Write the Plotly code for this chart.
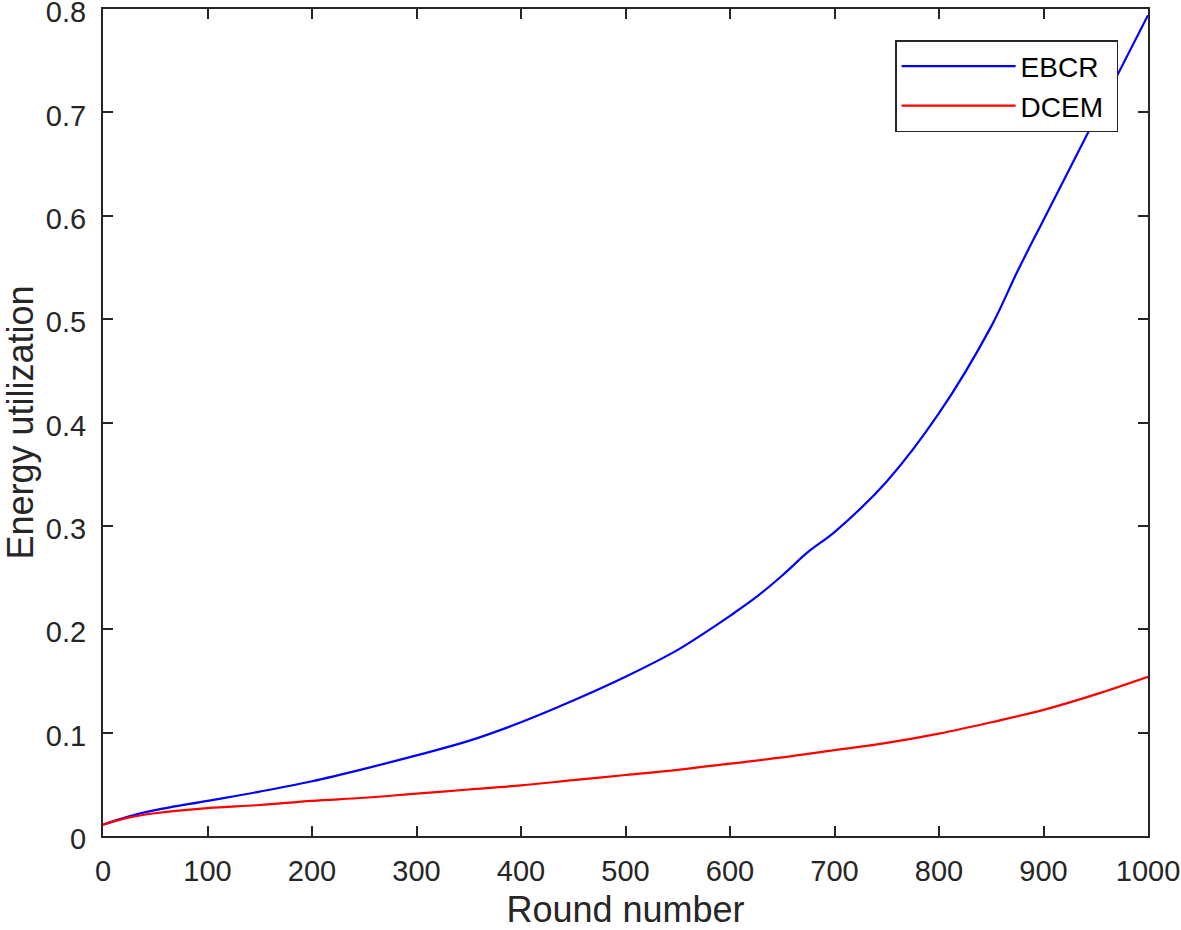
import plotly.graph_objects as go

# Round numbers and energy utilization
ebcr_rounds = [0, 25, 50, 100, 150, 200, 250, 300, 350, 400, 450, 500, 550, 575,
               600, 625, 650, 675, 700, 750, 800, 850, 875, 900, 950, 1000]
ebcr_energy = [0.011, 0.019, 0.025, 0.034, 0.043, 0.053, 0.065, 0.078, 0.092, 0.110,
               0.131, 0.154, 0.180, 0.196, 0.213, 0.231, 0.252, 0.275, 0.294, 0.343,
               0.409, 0.493, 0.546, 0.596, 0.695, 0.794]

dcem_rounds = [0, 25, 50, 100, 150, 200, 250, 300, 350, 400, 450, 500, 550, 600,
               650, 700, 750, 800, 850, 900, 950, 1000]
dcem_energy = [0.011, 0.018, 0.022, 0.027, 0.030, 0.034, 0.037, 0.041, 0.045, 0.049,
               0.054, 0.059, 0.064, 0.070, 0.076, 0.083, 0.090, 0.099, 0.110, 0.122,
               0.137, 0.154]

x_ticks = [0, 100, 200, 300, 400, 500, 600, 700, 800, 900, 1000]
y_ticks = [0, 0.1, 0.2, 0.3, 0.4, 0.5, 0.6, 0.7, 0.8]

FONT = "Liberation Sans, Arial, sans-serif"
AXIS_COLOR = "#262626"
NBSP = "\u00a0"

fig = go.Figure()
fig.add_trace(go.Scatter(
    x=ebcr_rounds, y=ebcr_energy, mode="lines", name="EBCR" + NBSP,
    line=dict(color="#0000FF", width=2.2, shape="spline", smoothing=1.0),
))
fig.add_trace(go.Scatter(
    x=dcem_rounds, y=dcem_energy, mode="lines", name="DCEM" + NBSP,
    line=dict(color="#FF0000", width=2.2, shape="spline", smoothing=1.0),
))

axis_common = dict(
    showline=True, linecolor=AXIS_COLOR, linewidth=2, mirror="ticks",
    ticks="inside", ticklen=10, tickwidth=1.5, tickcolor=AXIS_COLOR,
    showgrid=False, zeroline=False, ticklabeloverflow="allow", automargin=False,
    tickfont=dict(family=FONT, size=29, color=AXIS_COLOR),
)

fig.update_xaxes(
    range=[0, 1000], tickvals=x_ticks,
    title=dict(text="Round number", font=dict(family=FONT, size=36, color=AXIS_COLOR), standoff=20),
    ticklabelstandoff=8,
    **axis_common,
)
fig.update_yaxes(
    range=[0, 0.8], tickvals=y_ticks, ticktext=[f"{v:g}" for v in y_ticks],
    title=dict(text="Energy utilization", font=dict(family=FONT, size=36, color=AXIS_COLOR), standoff=28),
    ticklabelstandoff=9, ticklabelshift=3,
    **axis_common,
)

fig.update_layout(
    width=1181, height=930,
    margin=dict(l=103, r=33, t=9, b=94),
    plot_bgcolor="white", paper_bgcolor="white",
    legend=dict(
        x=0.758, y=0.9625, xanchor="left", yanchor="top",
        bgcolor="white", bordercolor=AXIS_COLOR, borderwidth=1.5,
        font=dict(family=FONT, size=28, color="black"),
        itemwidth=114,
    ),
)

# page margin removed so the figure fills the window like the original export
fig.write_html(
    "out.html",
    config={"displayModeBar": False},
    post_script="document.body.style.margin = '0';",
)
